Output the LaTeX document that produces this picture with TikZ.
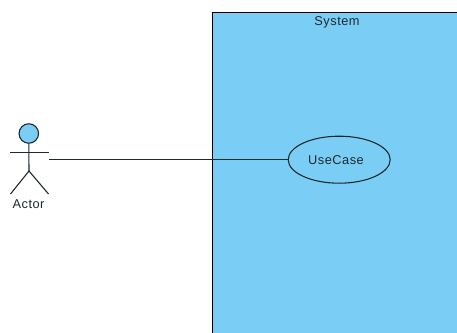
\documentclass[tikz,border=0pt]{standalone}
\usepackage{fontspec}
\setmainfont{Liberation Sans}
\newfontfamily\widefont[LetterSpace=4]{Liberation Sans}
\usetikzlibrary{shapes.geometric}
\definecolor{ucblue}{HTML}{7ACEF5}
\definecolor{ink}{HTML}{1E2A30}
\tikzset{
  lineart/.style={draw=ink,line width=1.1pt},
  lbl/.style={font=\widefont\fontsize{12.8}{14}\selectfont,text=ink,inner sep=0pt},
}
\begin{document}
\begin{tikzpicture}[x=1pt,y=-1pt]
\useasboundingbox (0,0) rectangle (457,332);
\fill[white] (0,0) rectangle (457,332);
% system boundary, cut off by the page on the right and at the bottom
\path[fill=ucblue] (212.5,12.5) rectangle (460,335);
\draw[black,line width=1.1pt] (460,12.5) -- (212.5,12.5) -- (212.5,335);
\node[lbl] (systemlabel) at (337,22.2) {System};
% actor
\node[circle,fill=ucblue,lineart,minimum size=19.5pt,inner sep=0pt] (head) at (28.8,133.5) {};
\coordinate (hip) at (29,171);
\coordinate (armL) at (10,152.5);
\coordinate (armR) at (49,152.5);
\coordinate (footL) at (10.5,194);
\coordinate (footR) at (48.5,194);
\draw[lineart] (head.south) -- (hip);
\draw[lineart] (armL) -- (armR);
\draw[lineart] (footL) -- (hip) -- (footR);
\node[lbl] (actorlabel) at (28.5,204) {Actor};
% use case
\node[ellipse,lineart,fill=ucblue,minimum width=102pt,minimum height=47pt,inner sep=0pt] (usecase) at (339.2,159.7) {};
\node[lbl] (usecaselabel) at (336,159.7) {UseCase};
% association
\coordinate (actorend) at (48.5,159.7);
\draw[lineart] (actorend) -- (usecase.west);
\end{tikzpicture}
\end{document}
